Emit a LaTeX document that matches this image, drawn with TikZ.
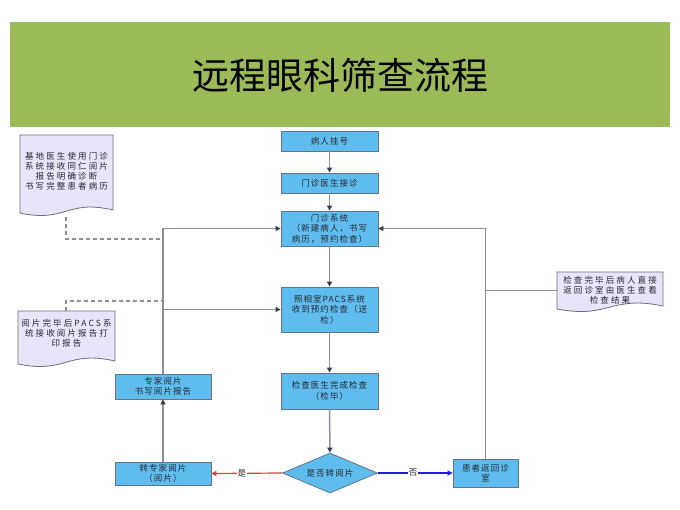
\documentclass[tikz,border=0pt]{standalone}
\usepackage{fontspec}
\setmainfont{Noto Sans CJK SC}
\newfontfamily\boxfont[LetterSpace=12]{Noto Sans CJK SC}
\newfontfamily\docfont[LetterSpace=25]{Noto Sans CJK SC}
\usetikzlibrary{arrows.meta,shapes.geometric}
\definecolor{band}{RGB}{155,187,89}
\definecolor{boxfill}{RGB}{94,188,238}
\definecolor{boxline}{RGB}{100,116,135}
\definecolor{docfill}{RGB}{232,228,250}
\definecolor{docline}{RGB}{110,110,120}
\definecolor{conncol}{RGB}{140,140,155}
\definecolor{tipcol}{RGB}{60,60,70}
\definecolor{txt}{RGB}{40,40,50}
\definecolor{yescol}{RGB}{225,60,60}
\definecolor{nocol}{RGB}{30,30,225}
\tikzset{
  stepbox/.style={draw=boxline, fill=boxfill, line width=0.8pt, minimum width=97pt,
    align=center, inner sep=1pt, text=txt, font=\boxfont\fontsize{8.5}{10.5}\selectfont},
  decide/.style={diamond, draw=boxline, fill=boxfill, line width=0.8pt, inner sep=0pt,
    minimum width=95pt, minimum height=40pt, aspect=2.4, text=txt,
    font=\boxfont\fontsize{8.5}{10.5}\selectfont},
  doctext/.style={align=center, inner sep=0pt, text=txt, font=\docfont\fontsize{8.5}{10}\selectfont},
  docst/.style={draw=docline, fill=docfill, line width=0.8pt},
  conn/.style={draw=conncol, line width=1.5pt, -{Triangle[length=5pt,width=5pt,color=tipcol]}},
  plainline/.style={draw=conncol, line width=1.5pt},
  dashline/.style={draw=conncol, line width=1.2pt, dash pattern=on 4pt off 3pt},
  lab/.style={fill=white, inner sep=1pt, text=txt, font=\boxfont\fontsize{8.5}{10}\selectfont}
}
\newcommand{\docshape}[4]{%
  \draw[docst] (#1,#2) -- (#3,#2) -- (#3,{#4-3})
    .. controls ({#3-0.5*(#3-#1)},{#4-14}) and ({#1+0.5*(#3-#1)},{#4+10}) .. (#1,#4) -- cycle;}
\begin{document}
\begin{tikzpicture}[x=1pt,y=-1pt]
\useasboundingbox (0,0) rectangle (680,510);
\fill[white] (0,0) rectangle (680,510);
% title band
\fill[band] (10,22) rectangle (670,127);
\node[font=\fontsize{37}{40}\selectfont, text=black] (title) at (340,75) {远程眼科筛查流程};

% process boxes
\node[stepbox, minimum height=20pt] (b1) at (329.5,141) {病人挂号};
\node[stepbox, minimum height=20pt] (b2) at (329.5,183) {门诊医生接诊};
\node[stepbox, minimum height=35pt] (b3) at (329.5,228.5) {门诊系统\\（新建病人，书写\\病历，预约检查）};
\node[stepbox, minimum height=45pt] (b4) at (329.5,309.5) {照相室PACS系统\\收到预约检查（送\\检）};
\node[stepbox, minimum height=36pt] (b5) at (329.5,391) {检查医生完成检查\\（检毕）};
\node[decide] (dia) at (330,473) {是否转阅片};
\node[stepbox, minimum width=96pt, minimum height=23pt] (b7) at (163,473.5) {转专家阅片\\（阅片）};
\node[stepbox, minimum width=96pt, minimum height=25pt] (b9) at (163,386.5) {专家阅片\\书写阅片报告};
\node[stepbox, minimum width=65pt, minimum height=28pt] (b8) at (485.5,473) {患者返回诊\\室};

% documents
\docshape{20}{135}{113}{213}
\node[doctext] (docA) at (66.5,171) {基地医生使用门诊\\系统接收同仁阅片\\报告明确诊断\\书写完整患者病历};
\docshape{18}{311}{115}{364}
\node[doctext] (docB) at (66.5,333) {阅片完毕后PACS系\\统接收阅片报告打\\印报告};
\docshape{557}{272}{663}{309}
\node[doctext, minimum width=106pt, minimum height=37pt] (docC) at (610,290.5) {检查完毕后病人直接\\返回诊室由医生查看\\检查结果};

% main flow
\draw[conn] (b1) -- (b2);
\draw[conn] (b2) -- (b3);
\draw[conn] (b3) -- (b4);
\draw[conn] (b4) -- (b5);
\draw[conn] (b5) -- (dia);
\draw[draw=yescol, line width=1.2pt, -{Triangle[length=5pt,width=5pt,color=yescol]}]
  (dia.west) -- node[lab, pos=0.57] {是} (b7.east);
\draw[draw=nocol, line width=1.2pt, -{Triangle[length=5pt,width=5pt,color=nocol]}]
  (dia.east) -- node[lab, pos=0.47] {否} (b8.west);
\draw[conn] (b7) -- (b9);
\draw[conn] (b9.north) |- (b3.west);
\draw[conn] (b9.north |- b4.west) -- (b4.west);
\draw[conn] (b8.north) |- (b3.east);
\draw[plainline] (b8.north |- docC.west) -- (docC.west);

% dashed notes
\coordinate (dA) at (66,217);
\coordinate (jA) at (163,239);
\draw[dashline] (dA) |- (jA);
\coordinate (dB) at (66,311);
\coordinate (jB) at (163,301);
\draw[dashline] (dB) |- (jB);
\end{tikzpicture}
\end{document}
